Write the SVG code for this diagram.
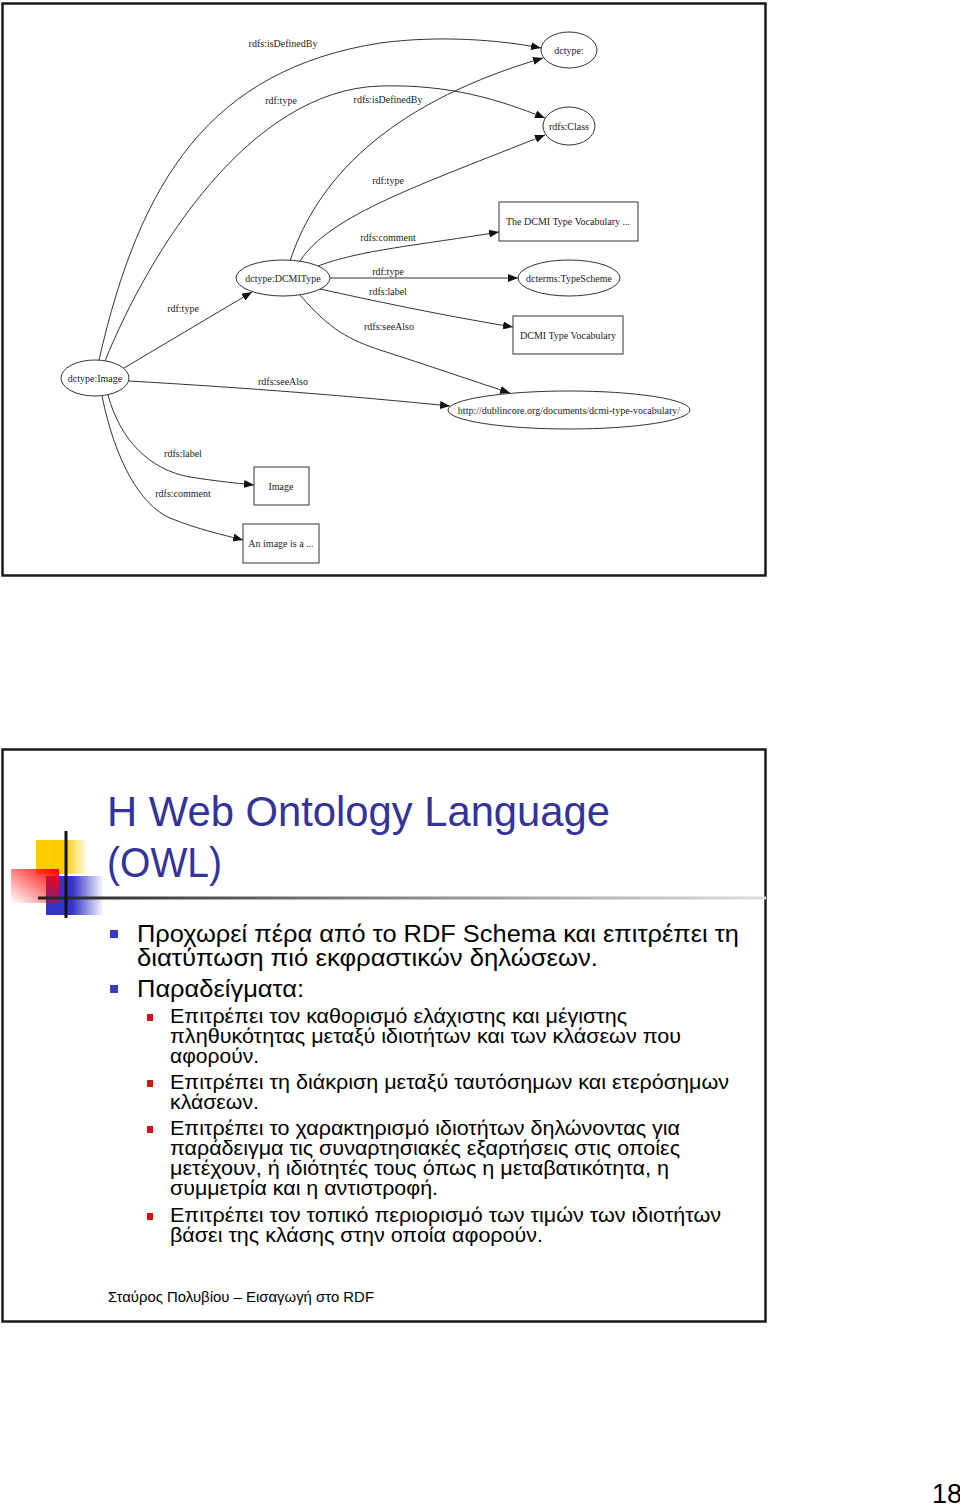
<svg xmlns="http://www.w3.org/2000/svg" width="960" height="1507" viewBox="0 0 960 1507">
<style>
.frame{fill:#fff;stroke:#1a1a1a;stroke-width:2.5}
.node{fill:#fff;stroke:#333;stroke-width:1}
.edge{fill:none;stroke:#333;stroke-width:1}
.lbl{font-family:"Liberation Serif",serif;font-size:10px;fill:#222;text-anchor:middle}
.title{font-family:"Liberation Sans",Arial,sans-serif;font-size:42px;fill:#333399}
.b1{font-family:"Liberation Sans",Arial,sans-serif;font-size:23px;fill:#000}
.b2{font-family:"Liberation Sans",Arial,sans-serif;font-size:20px;fill:#000}
.foot{font-family:"Liberation Sans",Arial,sans-serif;font-size:14px;fill:#000}
</style>
<defs>
<marker id="arr" markerUnits="userSpaceOnUse" markerWidth="10" markerHeight="8" refX="10" refY="4" orient="auto">
<path d="M0,0 L10,4 L0,8 z" fill="#111"/>
</marker>
<linearGradient id="gy" x1="0" y1="0" x2="1" y2="0"><stop offset="0" stop-color="#ffcc00"/><stop offset="0.55" stop-color="#ffcc00"/><stop offset="1" stop-color="#ffcc00" stop-opacity="0"/></linearGradient>
<linearGradient id="gb" x1="0" y1="0" x2="1" y2="0"><stop offset="0" stop-color="#3333cc"/><stop offset="0.45" stop-color="#3333cc"/><stop offset="1" stop-color="#3333cc" stop-opacity="0"/></linearGradient>
<linearGradient id="gr" x1="1" y1="0" x2="0" y2="1"><stop offset="0" stop-color="#ff0000"/><stop offset="1" stop-color="#ff0000" stop-opacity="0"/></linearGradient>
<linearGradient id="gl" x1="0" y1="0" x2="1" y2="0"><stop offset="0" stop-color="#222"/><stop offset="0.4" stop-color="#777"/><stop offset="1" stop-color="#ddd"/></linearGradient>
</defs>
<rect width="960" height="1507" fill="#fff"/>

<!-- Slide 1 frame -->
<rect class="frame" x="2.5" y="3.5" width="763" height="572"/>

<g id="connectors">
<path class="edge" marker-end="url(#arr)" d="M99,360 C140,180 210,70 380,43 C440,35 500,40 541,48"/>
<path class="edge" marker-end="url(#arr)" d="M105,361 C150,250 250,90 380,86 C450,84 500,100 545,118"/>
<path class="edge" marker-end="url(#arr)" d="M290,261 C320,170 400,100 543,58"/>
<path class="edge" marker-end="url(#arr)" d="M300,261 C330,215 420,185 545,135"/>
<path class="edge" marker-end="url(#arr)" d="M318,266 C360,250 420,245 499,232"/>
<path class="edge" marker-end="url(#arr)" d="M330,278 L518,278"/>
<path class="edge" marker-end="url(#arr)" d="M320,289 C370,300 440,315 513,327"/>
<path class="edge" marker-end="url(#arr)" d="M300,295 C330,330 350,340 380,350 C430,366 470,380 510,393"/>
<path class="edge" marker-end="url(#arr)" d="M124,368 L252,292"/>
<path class="edge" marker-end="url(#arr)" d="M129,381 C250,388 350,396 450,406"/>
<path class="edge" marker-end="url(#arr)" d="M108,395 C120,440 150,470 190,477 C215,481 235,483 254,485"/>
<path class="edge" marker-end="url(#arr)" d="M102,396 C115,460 140,505 170,518 C200,530 220,534 243,540"/>
<text class="lbl" x="283" y="47">rdfs:isDefinedBy</text>
<text class="lbl" x="281" y="104">rdf:type</text>
<text class="lbl" x="388" y="103">rdfs:isDefinedBy</text>
<text class="lbl" x="388" y="184">rdf:type</text>
<text class="lbl" x="388" y="241">rdfs:comment</text>
<text class="lbl" x="388" y="275">rdf:type</text>
<text class="lbl" x="388" y="295">rdfs:label</text>
<text class="lbl" x="389" y="330">rdfs:seeAlso</text>
<text class="lbl" x="183" y="312">rdf:type</text>
<text class="lbl" x="283" y="385">rdfs:seeAlso</text>
<text class="lbl" x="183" y="457">rdfs:label</text>
<text class="lbl" x="183" y="497">rdfs:comment</text>
</g>

<g id="n-dctype"><ellipse class="node" cx="569" cy="50" rx="28" ry="18"/><text class="lbl" x="569" y="54">dctype:</text></g>
<g id="n-rdfsClass"><ellipse class="node" cx="569" cy="126" rx="26" ry="19"/><text class="lbl" x="569" y="130">rdfs:Class</text></g>
<g id="n-comment"><rect class="node" x="499" y="202" width="139" height="39"/><text class="lbl" x="568" y="225">The DCMI Type Vocabulary ...</text></g>
<g id="n-dcmitype"><ellipse class="node" cx="283" cy="278" rx="47" ry="18"/><text class="lbl" x="283" y="282">dctype:DCMIType</text></g>
<g id="n-typescheme"><ellipse class="node" cx="569" cy="278" rx="51" ry="18"/><text class="lbl" x="569" y="282">dcterms:TypeScheme</text></g>
<g id="n-vocab"><rect class="node" x="513" y="316" width="110" height="38"/><text class="lbl" x="568" y="339">DCMI Type Vocabulary</text></g>
<g id="n-image"><ellipse class="node" cx="95" cy="378" rx="34" ry="18"/><text class="lbl" x="95" y="382">dctype:Image</text></g>
<g id="n-http"><ellipse class="node" cx="569" cy="410" rx="121" ry="19"/><text class="lbl" x="569" y="414">http://dublincore.org/documents/dcmi-type-vocabulary/</text></g>
<g id="n-imagelabel"><rect class="node" x="254" y="467" width="55" height="38"/><text class="lbl" x="281" y="490">Image</text></g>
<g id="n-imagecomment"><rect class="node" x="243" y="524" width="76" height="39"/><text class="lbl" x="281" y="547">An image is a ...</text></g>

<!-- Slide 2 -->
<rect class="frame" x="2.5" y="749.5" width="763" height="572"/>
<g id="decoration">
<rect x="36" y="840" width="52" height="34" fill="url(#gy)"/>
<rect x="46" y="876" width="58" height="39" fill="url(#gb)"/>
<rect x="11" y="869" width="48" height="34" fill="url(#gr)"/>
<rect x="38" y="896.5" width="728" height="3" fill="url(#gl)"/>
<rect x="64.5" y="831" width="3" height="87" fill="#111"/>
</g>
<g id="title">
<text class="title" x="107" y="826" textLength="503" lengthAdjust="spacingAndGlyphs">H Web Ontology Language</text>
<text class="title" x="107" y="877" textLength="115" lengthAdjust="spacingAndGlyphs">(OWL)</text>
</g>
<g id="bullets">
<rect x="110" y="930" width="8" height="8" fill="#3a3ac4"/>
<rect x="110" y="985" width="8" height="8" fill="#3a3ac4"/>
<text class="b1" x="137" y="942" textLength="602" lengthAdjust="spacingAndGlyphs">Προχωρεί πέρα από το RDF Schema και επιτρέπει τη</text>
<text class="b1" x="137" y="966" textLength="461" lengthAdjust="spacingAndGlyphs">διατύπωση πιό εκφραστικών δηλώσεων.</text>
<text class="b1" x="137" y="997" textLength="167" lengthAdjust="spacingAndGlyphs">Παραδείγματα:</text>
<rect x="147" y="1014" width="6" height="7" fill="#e01010"/>
<rect x="147" y="1080" width="6" height="7" fill="#e01010"/>
<rect x="147" y="1126" width="6" height="7" fill="#e01010"/>
<rect x="147" y="1213" width="6" height="7" fill="#e01010"/>
<text class="b2" x="170" y="1023" textLength="457" lengthAdjust="spacingAndGlyphs">Επιτρέπει τον καθορισμό ελάχιστης και μέγιστης</text>
<text class="b2" x="170" y="1043" textLength="511" lengthAdjust="spacingAndGlyphs">πληθυκότητας μεταξύ ιδιοτήτων και των κλάσεων που</text>
<text class="b2" x="170" y="1063" textLength="89" lengthAdjust="spacingAndGlyphs">αφορούν.</text>
<text class="b2" x="170" y="1089" textLength="559" lengthAdjust="spacingAndGlyphs">Επιτρέπει τη διάκριση μεταξύ ταυτόσημων και ετερόσημων</text>
<text class="b2" x="170" y="1109" textLength="89" lengthAdjust="spacingAndGlyphs">κλάσεων.</text>
<text class="b2" x="170" y="1135" textLength="510" lengthAdjust="spacingAndGlyphs">Επιτρέπει το χαρακτηρισμό ιδιοτήτων δηλώνοντας για</text>
<text class="b2" x="170" y="1155" textLength="510" lengthAdjust="spacingAndGlyphs">παράδειγμα τις συναρτησιακές εξαρτήσεις στις οποίες</text>
<text class="b2" x="170" y="1175" textLength="499" lengthAdjust="spacingAndGlyphs">μετέχουν, ή ιδιότητές τους όπως η μεταβατικότητα, η</text>
<text class="b2" x="170" y="1195" textLength="268" lengthAdjust="spacingAndGlyphs">συμμετρία και η αντιστροφή.</text>
<text class="b2" x="170" y="1222" textLength="551" lengthAdjust="spacingAndGlyphs">Επιτρέπει τον τοπικό περιορισμό των τιμών των ιδιοτήτων</text>
<text class="b2" x="170" y="1242" textLength="373" lengthAdjust="spacingAndGlyphs">βάσει της κλάσης στην οποία αφορούν.</text>
</g>
<text class="foot" x="108" y="1302" textLength="266" lengthAdjust="spacingAndGlyphs">Σταύρος Πολυβίου – Εισαγωγή στο RDF</text>
<text x="932" y="1503" font-family="Liberation Sans, Arial, sans-serif" font-size="27" fill="#000">18</text>
</svg>
